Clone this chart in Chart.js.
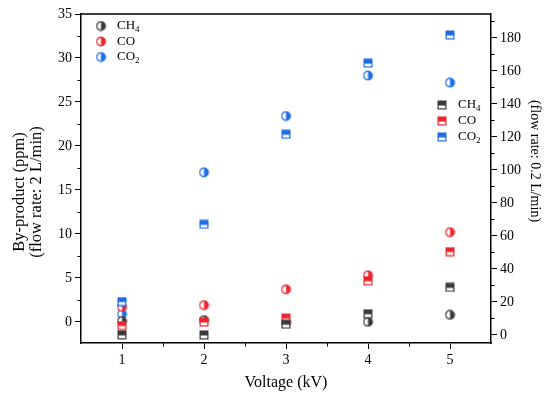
<!DOCTYPE html>
<html>
<head>
<meta charset="utf-8">
<script src="https://cdn.jsdelivr.net/npm/chart.js@4/dist/chart.umd.min.js"></script>
<style>
  html, body { margin: 0; padding: 0; background: #fff; }
  #wrap { width: 550px; height: 396px; }
</style>
</head>
<body>
<div id="wrap"><canvas id="byproductChart"></canvas></div>
<script>
var voltage = [1, 2, 3, 4, 5];

// ppm at flow rate 2 L/min (left axis, half circles)
var ch4Fast = [0.1, 0.2, -0.1, 0.0, 0.8];
var coFast = [1.7, 1.9, 3.7, 5.3, 10.2];
var co2Fast = [0.9, 17.0, 23.4, 28.0, 27.2];

// ppm at flow rate 0.2 L/min (right axis, half squares)
var ch4Slow = [0, 0, 6.5, 12.8, 28.8];
var coSlow = [5.7, 7.8, 10.2, 32.8, 50.5];
var co2Slow = [20.2, 67, 121.6, 164.7, 181.8];

var leftTicks = [0, 5, 10, 15, 20, 25, 30, 35];
var rightTicks = [0, 20, 40, 60, 80, 100, 120, 140, 160, 180];

var gasNames = ['CH', 'CO', 'CO'];
var gasSubs = ['4', '', '2'];
var gasColors = ['#3a3a3a', '#f2242c', '#1c6ce8'];

var leftTitle = ['By-product (ppm)', '(flow rate: 2 L/min)'];
var rightTitle = '(flow rate: 0.2 L/min)';

var serif = '"Liberation Serif", "Times New Roman", serif';

// marker images
function halfCircle(color) {
  var c = document.createElement('canvas');
  c.width = 11; c.height = 11;
  var g = c.getContext('2d');
  g.fillStyle = '#fff';
  g.beginPath(); g.arc(5.5, 5.5, 4.3, 0, Math.PI * 2); g.fill();
  g.fillStyle = color;
  g.beginPath(); g.arc(5.5, 5.5, 4.3, -Math.PI / 2, Math.PI / 2); g.closePath(); g.fill();
  g.strokeStyle = color; g.lineWidth = 1.2;
  g.beginPath(); g.arc(5.5, 5.5, 4.3, 0, Math.PI * 2); g.stroke();
  return c;
}
function halfSquare(color) {
  var c = document.createElement('canvas');
  c.width = 10; c.height = 10;
  var g = c.getContext('2d');
  g.fillStyle = '#fff'; g.fillRect(1, 1, 8, 8);
  g.fillStyle = color; g.fillRect(1, 1, 8, 4.5);
  g.strokeStyle = color; g.lineWidth = 1.2;
  g.strokeRect(1.1, 1.1, 7.8, 7.8);
  return c;
}

var circles = gasColors.map(halfCircle);
var squares = gasColors.map(halfSquare);

function pts(arr) {
  return voltage.map(function (v, i) { return { x: v, y: arr[i] }; });
}

var fastSets = [ch4Fast, coFast, co2Fast];
var slowSets = [ch4Slow, coSlow, co2Slow];
var datasets = [];
slowSets.forEach(function (arr, i) {
  datasets.push({ label: gasNames[i] + gasSubs[i] + ' (0.2 L/min)', data: pts(arr), yAxisID: 'y1',
    pointStyle: squares[i], pointRadius: 5, pointHoverRadius: 5 });
});
fastSets.forEach(function (arr, i) {
  datasets.push({ label: gasNames[i] + gasSubs[i] + ' (2 L/min)', data: pts(arr), yAxisID: 'y',
    pointStyle: circles[i], pointRadius: 5, pointHoverRadius: 5 });
});

// minor ticks, top frame, y titles and both marker legends
var decorPlugin = {
  id: 'decor',
  afterDraw: function (chart) {
    var ctx = chart.ctx, a = chart.chartArea;
    var sx = chart.scales.x, sl = chart.scales.y, sr = chart.scales.y1;
    ctx.save();
    ctx.strokeStyle = '#000';
    ctx.lineWidth = 1;
    ctx.beginPath();
    [1.5, 2.5, 3.5, 4.5].forEach(function (v) {
      var px = Math.round(sx.getPixelForValue(v)) + 0.5;
      ctx.moveTo(px, a.bottom); ctx.lineTo(px, a.bottom + 3.5);
    });
    for (var v = 2.5; v < sl.max; v += 5) {
      var py = Math.round(sl.getPixelForValue(v)) + 0.5;
      ctx.moveTo(a.left, py); ctx.lineTo(a.left - 3.5, py);
    }
    for (var w = 10; w < sr.max; w += 20) {
      var qy = Math.round(sr.getPixelForValue(w)) + 0.5;
      ctx.moveTo(a.right, qy); ctx.lineTo(a.right + 3.5, qy);
    }
    ctx.stroke();
    ctx.lineWidth = 1.5;
    ctx.beginPath();
    ctx.moveTo(a.left, a.top); ctx.lineTo(a.right, a.top);
    ctx.stroke();

    // axis titles (the figure has them a little off centre)
    ctx.fillStyle = '#000';
    ctx.textAlign = 'center';
    ctx.textBaseline = 'middle';
    ctx.font = '16.5px ' + serif;
    ctx.save();
    ctx.translate(0, 192);
    ctx.rotate(-Math.PI / 2);
    ctx.fillText(leftTitle[0], 0, 20);
    ctx.fillText(leftTitle[1], 0, 37);
    ctx.restore();
    ctx.font = '14px ' + serif;
    ctx.save();
    ctx.translate(a.right + 44, 161);
    ctx.rotate(Math.PI / 2);
    ctx.fillText(rightTitle, 0, 0);
    ctx.restore();
    ctx.textAlign = 'left';

    function legend(markers, x, y, gap) {
      markers.forEach(function (m, i) {
        var cy = y + i * gap;
        ctx.drawImage(m, x - m.width / 2, cy - m.height / 2);
        ctx.fillStyle = '#000';
        ctx.textBaseline = 'middle';
        ctx.font = '13px ' + serif;
        ctx.fillText(gasNames[i], x + 16, cy);
        if (gasSubs[i]) {
          var tw = ctx.measureText(gasNames[i]).width;
          ctx.font = '9px ' + serif;
          ctx.fillText(gasSubs[i], x + 16 + tw, cy + 4);
        }
      });
    }
    legend(circles, a.left + 20, a.top + 12, 15.5);
    legend(squares, a.right - 49, a.top + 91, 16);
    ctx.restore();
  }
};

function fixTicks(values) {
  return function (scale) {
    scale.ticks = values.map(function (v) { return { value: v }; });
  };
}

var axisGrid = { drawOnChartArea: false, drawTicks: true, tickLength: 6, color: '#000', lineWidth: 1 };
var axisBorder = { display: true, color: '#000', width: 1.5 };
var tickFont = { family: serif, size: 14 };

var ctx = document.getElementById('byproductChart').getContext('2d');
var byproductChart = new Chart(ctx, {
  type: 'scatter',
  data: { datasets: datasets },
  plugins: [decorPlugin],
  options: {
    responsive: true,
    maintainAspectRatio: false,
    animation: false,
    layout: { padding: { top: 14, left: 0, right: 0, bottom: 0 } },
    plugins: { legend: { display: false }, tooltip: { enabled: false } },
    scales: {
      x: {
        type: 'linear', min: 0.5, max: 5.5,
        afterBuildTicks: fixTicks(voltage),
        afterFit: function (s) { s.height = 53; },
        grid: axisGrid, border: axisBorder,
        ticks: { font: tickFont, color: '#000', padding: 3, maxRotation: 0 },
        title: { display: true, text: 'Voltage (kV)', font: { family: serif, size: 16 }, color: '#000', padding: { top: 0 } }
      },
      y: {
        type: 'linear', position: 'left', min: -2.4, max: 35,
        afterBuildTicks: fixTicks(leftTicks),
        afterFit: function (s) { s.width = 81; },
        grid: axisGrid, border: axisBorder,
        ticks: { font: tickFont, color: '#000', padding: 3 }
      },
      y1: {
        type: 'linear', position: 'right', min: -4.9, max: 194.5,
        afterBuildTicks: fixTicks(rightTicks),
        afterFit: function (s) { s.width = 59; },
        grid: axisGrid, border: axisBorder,
        ticks: { font: tickFont, color: '#000', padding: 3 }
      }
    }
  }
});
</script>
</body>
</html>
